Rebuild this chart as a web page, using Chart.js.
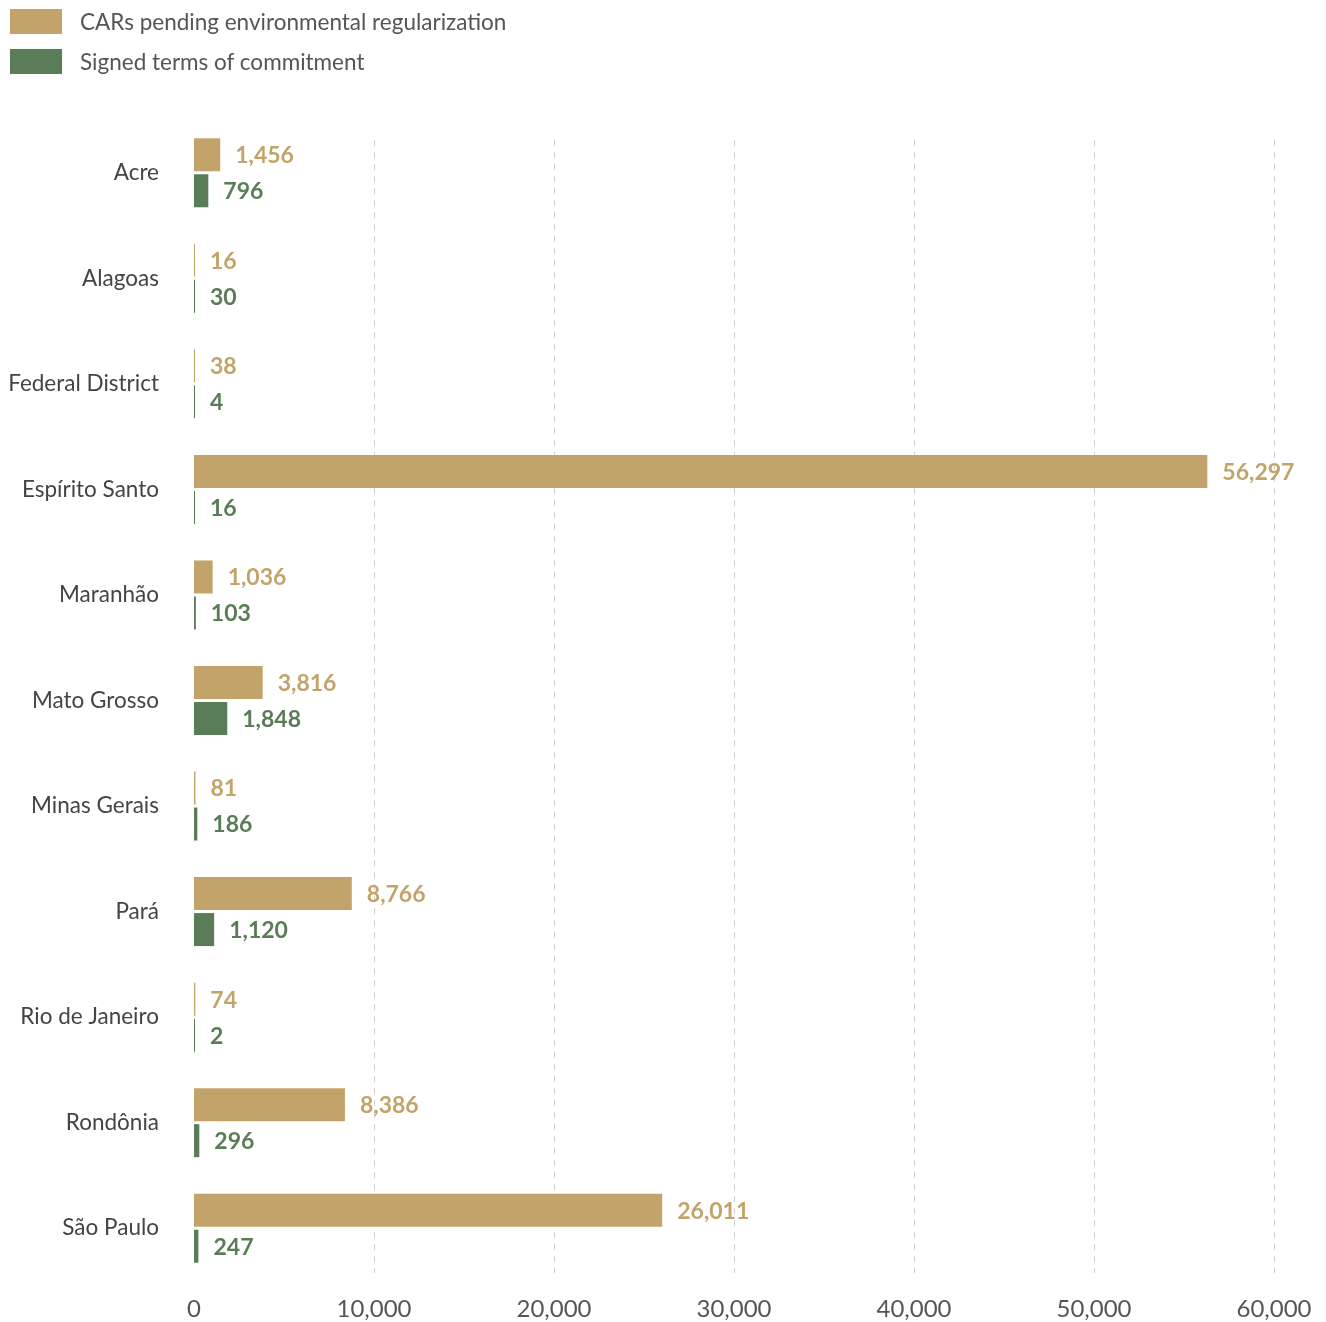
<!DOCTYPE html>
<html>
<head>
<meta charset="utf-8">
<script src="https://cdn.jsdelivr.net/npm/chart.js@4.4.1/dist/chart.umd.min.js"></script>
<style>
  body { margin: 0; background: #fff; font-family: Lato, "Open Sans", sans-serif; }
  .wrap { position: relative; width: 1326px; height: 1322px; }
  .legend { position: absolute; left: 10px; top: 9px; }
  .legend-item { display: flex; align-items: center; height: 25px; margin-bottom: 15px; font-size: 22.5px; color: #555; }
  .legend-box { width: 52px; height: 25px; margin-right: 18px; }
</style>
</head>
<body>
<div class="wrap">
  <canvas id="chart" width="1326" height="1322"></canvas>
  <div class="legend">
    <div class="legend-item"><span class="legend-box" style="background:#c2a46a"></span>CARs pending environmental regularization</div>
    <div class="legend-item"><span class="legend-box" style="background:#5a7d57"></span>Signed terms of commitment</div>
  </div>
</div>
<script>
const states = ["Acre", "Alagoas", "Federal District", "Espírito Santo", "Maranhão", "Mato Grosso",
  "Minas Gerais", "Pará", "Rio de Janeiro", "Rondônia", "São Paulo"];
const pendingCars = [1456, 16, 38, 56297, 1036, 3816, 81, 8766, 74, 8386, 26011];
const signedTerms = [796, 30, 4, 16, 103, 1848, 186, 1120, 2, 296, 247];
const xTicks = [0, 10000, 20000, 30000, 40000, 50000, 60000];

const GOLD = "#c2a46a";
const GREEN = "#5a7d57";

// dashed vertical grid lines, skipping the zero line
const dashedGrid = {
  id: "dashedGrid",
  beforeDatasetsDraw(chart) {
    const { ctx, chartArea, scales } = chart;
    ctx.save();
    ctx.strokeStyle = "#cfcfcf";
    ctx.lineWidth = 1;
    ctx.setLineDash([6, 6]);
    xTicks.forEach((v) => {
      if (v === 0) return;
      const x = Math.round(scales.x.getPixelForValue(v)) + 0.5;
      ctx.beginPath();
      ctx.moveTo(x, chartArea.top + 20);
      ctx.lineTo(x, chartArea.bottom - 8);
      ctx.stroke();
    });
    ctx.restore();
  },
};

// value labels at the end of each bar
const valueLabels = {
  id: "valueLabels",
  afterDatasetsDraw(chart) {
    const { ctx } = chart;
    ctx.save();
    ctx.font = "bold 23px Lato, 'Open Sans', sans-serif";
    ctx.textBaseline = "middle";
    ctx.textAlign = "left";
    chart.data.datasets.forEach((ds, i) => {
      ctx.fillStyle = ds.backgroundColor;
      chart.getDatasetMeta(i).data.forEach((bar, j) => {
        ctx.fillText(ds.data[j].toLocaleString("en-US"), bar.x + 15, bar.y + 1);
      });
    });
    ctx.restore();
  },
};

new Chart(document.getElementById("chart"), {
  type: "bar",
  data: {
    labels: states,
    datasets: [
      { label: "CARs pending environmental regularization", data: pendingCars, backgroundColor: GOLD, minBarLength: 1 },
      { label: "Signed terms of commitment", data: signedTerms, backgroundColor: GREEN, minBarLength: 1 },
    ],
  },
  options: {
    indexAxis: "y",
    responsive: false,
    animation: false,
    categoryPercentage: 0.682,
    barPercentage: 0.917,
    layout: { padding: { top: 120, right: 52, left: 0, bottom: 0 } },
    plugins: {
      legend: { display: false },
      tooltip: { enabled: false },
    },
    scales: {
      x: {
        min: 0,
        max: 60000,
        afterBuildTicks: (scale) => { scale.ticks = xTicks.map((v) => ({ value: v })); },
        afterFit: (scale) => { scale.height = 41; },
        grid: { display: false },
        border: { display: false },
        ticks: {
          color: "#555",
          padding: 6,
          font: { size: 24, family: "Lato, 'Open Sans', sans-serif" },
          callback: (v) => v.toLocaleString("en-US"),
        },
      },
      y: {
        afterFit: (scale) => {
          scale.width = 194;
          scale.paddingTop = 0;
          scale.paddingBottom = 0;
        },
        grid: { display: false },
        border: { display: false },
        ticks: {
          color: "#444",
          padding: 27,
          font: { size: 22.5, family: "Lato, 'Open Sans', sans-serif" },
        },
      },
    },
  },
  plugins: [dashedGrid, valueLabels],
});
</script>
</body>
</html>
